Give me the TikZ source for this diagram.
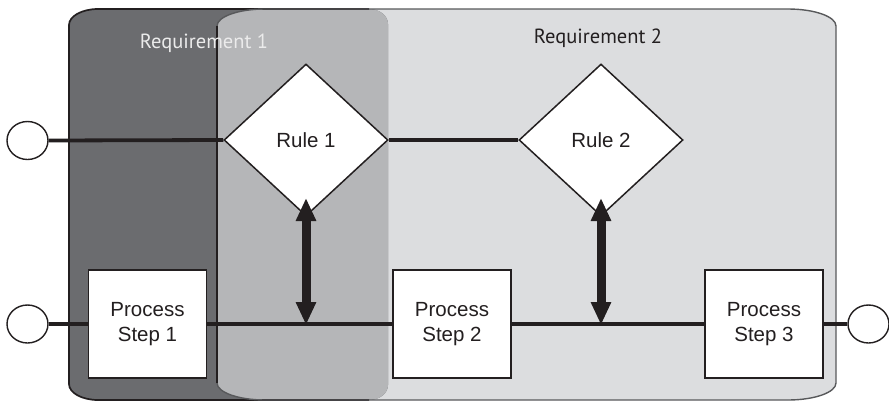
\documentclass[tikz,border=0pt]{standalone}
\usepackage{fontspec}
\setmainfont{Liberation Sans}
\newfontfamily\reqfont{PT Sans}
\usetikzlibrary{shapes.geometric,arrows.meta}

\definecolor{darklane}{HTML}{6B6C6F}
\definecolor{midlane}{HTML}{B5B6B8}
\definecolor{lightlane}{HTML}{DCDDDF}
\definecolor{ink}{HTML}{231F20}
\definecolor{laneedge}{HTML}{58595B}

\tikzset{
  endpoint/.style={draw=ink, fill=white, ellipse, line width=1.4pt,
    minimum width=41pt, minimum height=38pt, inner sep=0pt},
  rulebox/.style={draw=ink, fill=white, diamond, line width=1.5pt,
    minimum width=164pt, minimum height=152pt, inner sep=0pt,
    text=ink, font=\fontsize{20.5}{25}\selectfont},
  stepbox/.style={draw=ink, fill=white, rectangle, line width=1.7pt,
    minimum width=118pt, minimum height=108pt, inner sep=0pt,
    align=center, text=ink, font=\fontsize{20.5}{25}\selectfont},
  flowtop/.style={draw=ink, line width=3.8pt},
  flowbottom/.style={draw=ink, line width=3.3pt},
  linkarrow/.style={draw=ink, line width=9pt,
    {Triangle[length=23pt,width=19pt]}-{Triangle[length=23pt,width=19pt]}},
  reqlabel/.style={anchor=base, font=\reqfont\fontsize{20.5}{24}\selectfont}
}

\begin{document}
\begin{tikzpicture}[x=1pt, y=-1pt]
\useasboundingbox (0,0) rectangle (889,402);

% lane paths (angles measured with y pointing down)
\def\darkpath{(69,25) arc[start angle=180,end angle=270,x radius=29,y radius=16]
  -- (369,9) arc[start angle=270,end angle=360,x radius=19,y radius=15]
  -- (388,385) arc[start angle=0,end angle=90,x radius=19,y radius=15]
  -- (98,400) arc[start angle=90,end angle=180,x radius=29,y radius=16] -- cycle}
\def\lightpath{(217,26) arc[start angle=180,end angle=270,x radius=48,y radius=17]
  -- (788,9) arc[start angle=270,end angle=360,x radius=48,y radius=17]
  -- (836,383) arc[start angle=0,end angle=90,x radius=48,y radius=17]
  -- (265,400) arc[start angle=90,end angle=180,x radius=48,y radius=17] -- cycle}

% lane fills
\fill[lightlane] \lightpath;
\fill[darklane] \darkpath;
\begin{scope}
  \clip \lightpath;
  \fill[midlane] \darkpath;
\end{scope}

% lane outlines
\draw[ink, line width=1.7pt] (369,9) -- (98,9)
  arc[start angle=270,end angle=180,x radius=29,y radius=16]
  -- (69,384) arc[start angle=180,end angle=90,x radius=29,y radius=16]
  -- (369,400);
\draw[laneedge, line width=1.4pt] \lightpath;
\draw[ink, line width=1.4pt] (217,26) -- (217,383);

% lane titles
\node[reqlabel, text=white!92!black] (req1) at (204,48) {Requirement 1};
\node[reqlabel, text=ink] (req2) at (598,43) {Requirement 2};

% flow elements
\node[endpoint] (startA) at (27.5,140.5) {};
\node[endpoint] (startB) at (27.5,324) {};
\node[endpoint] (finish) at (868.5,324) {};

\node[rulebox] (rule1) at (306,140) {Rule 1};
\node[rulebox] (rule2) at (601,140) {Rule 2};

\node[stepbox] (step1) at (147.5,324) {Process\\Step 1};
\node[stepbox] (step2) at (452,324) {Process\\Step 2};
\node[stepbox] (step3) at (764,324) {Process\\Step 3};

% sequence lines
\draw[flowtop] (startA.east) -- (rule1.west);
\draw[flowtop] (rule1.east) -- (rule2.west);

\draw[flowbottom] (startB.east) -- (step1.west);
\draw[flowbottom] (step1.east) -- (step2.west);
\draw[flowbottom] (step2.east) -- (step3.west);
\draw[flowbottom] (step3.east) -- (finish.west);

% rule links to the process line
\coordinate (tipA) at (306,198);
\coordinate (baseA) at (306,325);
\coordinate (tipB) at (601,198);
\coordinate (baseB) at (601,325);
\draw[linkarrow] (tipA) -- (baseA);
\draw[linkarrow] (tipB) -- (baseB);
\end{tikzpicture}
\end{document}
